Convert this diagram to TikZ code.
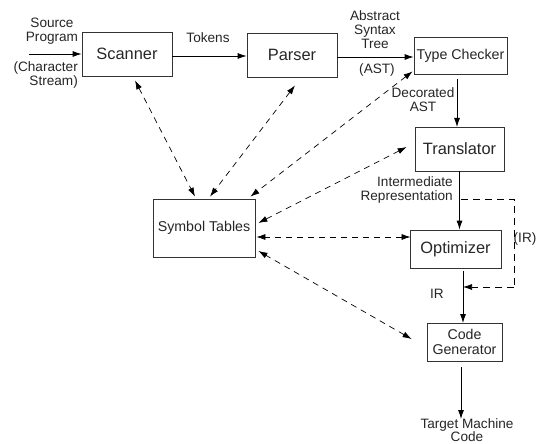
\documentclass[tikz,border=0pt]{standalone}
\usepackage{fontspec}
\setmainfont{Liberation Sans}
\usetikzlibrary{arrows.meta,calc}
\begin{document}
\begin{tikzpicture}[x=1pt,y=-1pt,
  big/.style={draw=black!80,line width=0.8pt,inner sep=0pt,font=\fontsize{16.4}{18}\selectfont,text=black!85},
  mid/.style={draw=black!80,line width=0.8pt,inner sep=0pt,font=\fontsize{14.2}{16}\selectfont,text=black!85,align=center},
  lbl/.style={inner sep=0pt,font=\fontsize{13.6}{14}\selectfont,text=black!85},
  arr/.style={line width=0.8pt,-{Latex[length=9pt,width=6pt]}},
  darr/.style={line width=0.7pt,dash pattern=on 6pt off 5pt,{Latex[length=9pt,width=6pt]}-{Latex[length=9pt,width=6pt]}},
  dline/.style={line width=0.7pt,dash pattern=on 7pt off 5pt}]
\useasboundingbox (0,0) rectangle (536,444);
\fill[white] (0,0) rectangle (536,444);
\node[big,minimum width=90pt,minimum height=44pt] (Sc) at (127,54) {Scanner};
\node[big,minimum width=90pt,minimum height=44pt] (Pa) at (292,55) {Parser};
\node[mid,minimum width=93pt,minimum height=37pt] (TC) at (460.5,55.5) {Type Checker};
\node[big,minimum width=89pt,minimum height=44pt] (Tr) at (459.5,149) {Translator};
\node[big,minimum width=91pt,minimum height=38pt] (Op) at (455.5,249) {Optimizer};
\node[mid,minimum width=75pt,minimum height=38pt] (CG) at (464.5,342) {Code\\[-1pt]Generator};
\node[mid,minimum width=102pt,minimum height=58pt] (ST) at (204,228) {Symbol Tables};
% labels
\node[lbl,align=center] (src) at (52,31) {Source\\Program};
\node[lbl,align=right,anchor=east] (chs) at (78,75) {(Character\\Stream)};
\node[lbl] (tok) at (208,38) {Tokens};
\node[lbl,align=center] (ast) at (375,30) {Abstract\\Syntax\\Tree};
\node[lbl] (astp) at (377,70) {(AST)};
\node[lbl,align=center] (dec) at (423,100) {Decorated\\AST};
\node[lbl,align=right,anchor=east] (irl) at (453,189.5) {Intermediate\\Representation};
\node[lbl] (ir) at (437,294) {IR};
\node[lbl,anchor=west] (irp) at (513.5,239) {(IR)};
\node[lbl,align=center,font=\fontsize{13.6}{11.5}\selectfont] (tgt) at (467,430) {Target Machine\\Code};
% anchor points
\coordinate (in) at (29,54);
\coordinate (tcs) at (457,79);
\coordinate (trn) at (457,127);
\coordinate (ops) at (463,271);
\coordinate (cgn) at (463,323);
\coordinate (cgs) at (461,367);
\coordinate (tgn) at (461,419);
\coordinate (l1) at (461,199);
\coordinate (l2) at (514,199);
\coordinate (l3) at (514,287);
\coordinate (l4) at (463,287);
% main flow
\draw[arr] (in) -- (Sc.west);
\draw[arr] (Sc.east |- 0,56) -- (Pa.west |- 0,56);
\draw[arr] (Pa.east |- 0,57) -- (TC.west |- 0,57);
\draw[arr] (tcs) -- (trn);
\draw[arr] (Tr.south) -- (Tr.south |- Op.north);
\draw[arr] (ops) -- (cgn);
\draw[arr] (cgs) -- (tgn);
% feedback loop
\draw[dline] (l1) -- (l2) -- (l3);
\draw[dline,-{Latex[length=9pt,width=6pt]}] (l3) -- (l4);
% symbol table links
\draw[darr] ($(Sc.south)+(8,4)$) -- ($(ST.north)+(-9,-2)$);
\draw[darr] ($(Pa.south)+(3,8)$) -- ($(ST.north)+(6,-2)$);
\draw[darr] ($(TC.south west)+(-1,-3)$) -- ($(ST.north east)+(-5,-2)$);
\draw[darr] ($(Tr.west)+(-8,-2)$) -- ($(ST.east)+(3,-5)$);
\draw[darr] ($(Op.west)+(1,-12)$) -- ($(ST.east)+(1,9)$);
\draw[darr] ($(CG.west)+(-15,-3)$) -- ($(ST.east)+(3,23)$);
\end{tikzpicture}
\end{document}
